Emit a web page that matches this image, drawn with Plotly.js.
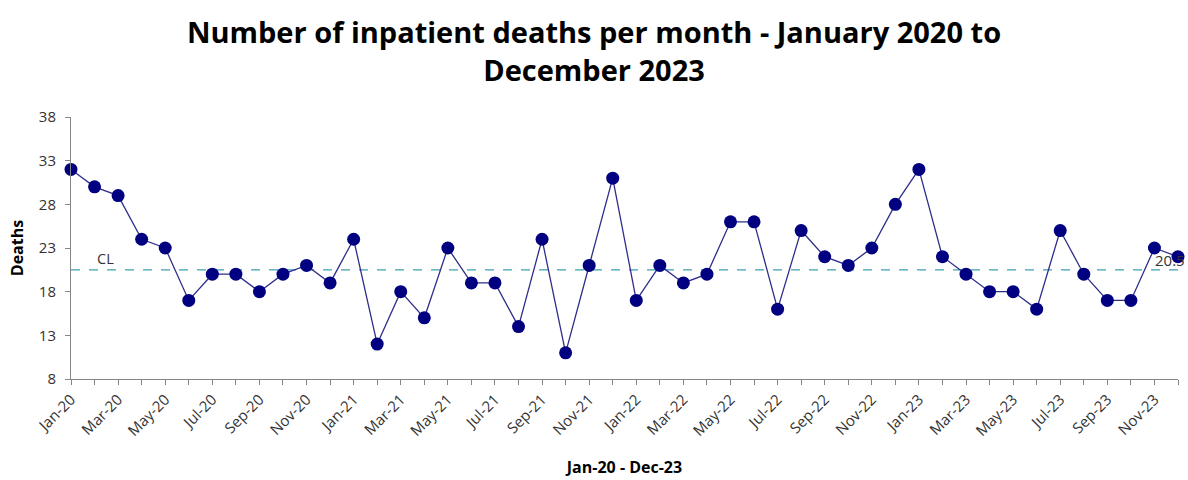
<!DOCTYPE html>
<html>
<head>
<meta charset="utf-8">
<script src="https://cdn.plot.ly/plotly-3.0.1.min.js"></script>
<style>html,body{margin:0;padding:0;background:#fff;}#chart{width:1188px;height:480px;}</style>
</head>
<body>
<div id="chart"></div>
<script>
const months = [
  "Jan-20","Feb-20","Mar-20","Apr-20","May-20","Jun-20","Jul-20","Aug-20","Sep-20","Oct-20","Nov-20","Dec-20",
  "Jan-21","Feb-21","Mar-21","Apr-21","May-21","Jun-21","Jul-21","Aug-21","Sep-21","Oct-21","Nov-21","Dec-21",
  "Jan-22","Feb-22","Mar-22","Apr-22","May-22","Jun-22","Jul-22","Aug-22","Sep-22","Oct-22","Nov-22","Dec-22",
  "Jan-23","Feb-23","Mar-23","Apr-23","May-23","Jun-23","Jul-23","Aug-23","Sep-23","Oct-23","Nov-23","Dec-23"
];
const deaths = [
  32,30,29,24,23,17,20,20,18,20,21,19,
  24,12,18,15,23,19,19,14,24,11,21,31,
  17,21,19,20,26,26,16,25,22,21,23,28,
  32,22,20,18,18,16,25,20,17,17,23,22
];
const centreLine = 20.5;
const yTicks = [8,13,18,23,28,33,38];
const tickLabels = months.map((m, i) => (i % 2 === 0 ? m : ""));

const font = "'Open Sans', Lato, sans-serif";

const traces = [
  {
    x: months, y: months.map(() => centreLine),
    type: "scatter", mode: "lines",
    line: {color: "#3AA0B2", width: 1.3, dash: "dash"},
    hoverinfo: "skip", showlegend: false
  },
  {
    x: months, y: deaths,
    type: "scatter", mode: "lines+markers",
    line: {color: "#2E2E8A", width: 1.3},
    marker: {color: "#000080", size: 13},
    showlegend: false, cliponaxis: false
  }
];

const layout = {
  width: 1188, height: 480,
  margin: {l: 71, r: 10, t: 117, b: 101},
  paper_bgcolor: "#fff", plot_bgcolor: "#fff",
  font: {family: font, color: "#333", size: 14},
  title: {
    text: "Number of inpatient deaths per month - January 2020 to<br>December 2023",
    font: {family: font, size: 29, color: "#000", weight: "bold"},
    x: 0.5, xanchor: "center", yref: "container", y: 0.91, yanchor: "middle"
  },
  xaxis: {
    type: "category",
    range: [0, months.length - 1],
    tickmode: "array", tickvals: months, ticktext: tickLabels,
    tickangle: -45,
    ticks: "outside", ticklen: 5, tickcolor: "#868686", tickwidth: 1,
    showline: true, linecolor: "#868686", linewidth: 1,
    showgrid: false, zeroline: false,
    tickfont: {family: font, size: 15, color: "#333"},
    title: {text: "Jan-20 - Dec-23", font: {family: font, size: 16, color: "#000", weight: "bold"}, standoff: 22}
  },
  yaxis: {
    range: [8, 38],
    tickmode: "array", tickvals: yTicks,
    ticks: "outside", ticklen: 5, tickcolor: "#868686",
    showline: true, linecolor: "#868686", linewidth: 1,
    showgrid: false, zeroline: false,
    ticklabelstandoff: 6,
    tickfont: {family: font, size: 15, color: "#333"},
    title: {text: "Deaths", font: {family: font, size: 16, color: "#000", weight: "bold"}, standoff: 11}
  },
  annotations: [
    {x: months[1], y: centreLine, xref: "x", yref: "y", text: "CL", showarrow: false,
     xanchor: "left", yanchor: "bottom", xshift: 0, yshift: 0,
     font: {family: font, size: 14.5, color: "#333"}},
    {x: months[months.length - 1], y: centreLine, xref: "x", yref: "y", text: String(centreLine), showarrow: false,
     xanchor: "center", yanchor: "bottom", xshift: -8, yshift: -2,
     font: {family: font, size: 15, color: "#333"}}
  ]
};

Plotly.newPlot("chart", traces, layout, {displayModeBar: false, staticPlot: true});
</script>
</body>
</html>
